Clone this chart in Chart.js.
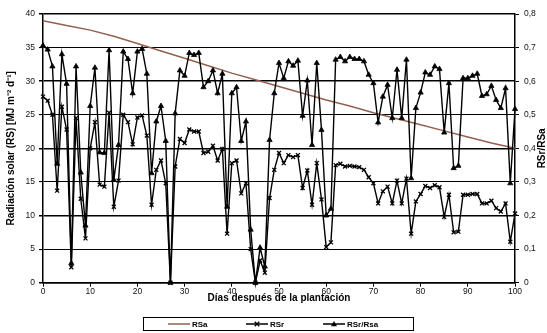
<!DOCTYPE html>
<html>
<head>
<meta charset="utf-8">
<script src="https://cdn.jsdelivr.net/npm/chart.js@4"></script>
<style>
  html, body { margin: 0; padding: 0; background: #fff; }
  canvas { display: block; }
</style>
</head>
<body>
<canvas id="c" width="547" height="333"></canvas>
<script>
// Days after planting (x values)
const days = [0,1,2,3,4,5,6,7,8,9,10,11,12,13,14,15,16,17,18,19,20,21,22,23,24,25,26,27,28,29,30,
  31,32,33,34,35,36,37,38,39,40,41,42,43,44,45,46,47,48,49,50,51,52,53,54,55,56,57,58,59,60,
  61,62,63,64,65,66,67,68,69,70,71,72,73,74,75,76,77,78,79,80,81,82,83,84,85,86,87,88,89,90,
  91,92,93,94,95,96,97,98,99,100];

// Measured solar radiation RSr, MJ m-2 d-1
const rsr = [27.7,27.1,25.0,13.7,26.2,22.8,2.3,24.5,12.5,6.6,20.0,23.9,14.6,14.3,25.3,11.3,15.2,
  25.0,23.9,20.6,24.6,24.9,21.9,11.6,16.8,18.2,14.8,0,17.3,21.4,20.8,22.8,22.5,22.5,19.3,19.5,
  20.4,18.2,19.9,7.3,17.8,18.2,13.3,14.8,5.0,0,3.3,1.5,12.6,16.8,19.3,17.8,19.0,18.7,19.0,14.1,
  16.7,11.6,17.8,12.4,5.3,6.0,17.5,17.7,17.3,17.4,17.3,17.2,16.8,15.7,14.8,11.8,13.6,14.3,11.8,
  15.2,11.8,15.5,7.3,12.1,13.2,14.4,14.1,14.5,14.2,9.8,13.1,7.5,7.6,13.1,13.1,13.2,13.2,11.8,
  11.8,12.2,11.1,10.6,11.8,6.1,10.3];

// Ratio RSr/RSa (right axis)
const ratio = [0.706,0.694,0.644,0.354,0.680,0.592,0.058,0.644,0.328,0.170,0.526,0.640,0.388,0.386,
  0.692,0.306,0.410,0.688,0.666,0.564,0.688,0.696,0.622,0.326,0.480,0.526,0.422,0,0.504,0.632,
  0.616,0.684,0.678,0.684,0.582,0.600,0.632,0.564,0.622,0.226,0.564,0.582,0.422,0.480,0.158,0,
  0.104,0.048,0.425,0.564,0.654,0.609,0.659,0.646,0.661,0.497,0.602,0.410,0.654,0.455,0.200,
  0.220,0.664,0.672,0.659,0.672,0.666,0.666,0.659,0.619,0.594,0.477,0.554,0.589,0.490,0.634,
  0.490,0.664,0.311,0.520,0.566,0.626,0.619,0.644,0.636,0.447,0.594,0.341,0.348,0.609,0.609,
  0.616,0.622,0.556,0.561,0.586,0.544,0.520,0.579,0.296,0.517];

// Extraterrestrial radiation RSa, read every 5 days
const rsaDays = [0,5,10,15,20,25,30,35,40,45,50,55,60,65,70,75,80,85,90,95,100];
const rsa = [39.0,38.3,37.6,36.7,35.6,34.5,33.4,32.3,31.2,30.2,29.2,28.2,27.2,26.3,25.3,24.4,
  23.5,22.6,21.7,20.8,20.0];

// Axis ticks
const xTicks = [0,10,20,30,40,50,60,70,80,90,100];
const leftTicks = [0,5,10,15,20,25,30,35,40];
const rightTicks = [0,0.1,0.2,0.3,0.4,0.5,0.6,0.7,0.8];

const FONT = "'Liberation Sans', Arial, sans-serif";
const BROWN = '#93604f';

const pts = (xs, ys) => xs.map((x, i) => ({ x: x, y: ys[i] }));

// Bottom legend in a framed box, plus the right-hand axis title
const extras = {
  id: 'extras',
  afterDraw(chart) {
    const ctx = chart.ctx;
    ctx.save();
    // right axis title, reading upwards
    ctx.fillStyle = '#000';
    ctx.font = 'bold 10px ' + FONT;
    ctx.textAlign = 'center';
    ctx.textBaseline = 'middle';
    ctx.translate(542, (chart.chartArea.top + chart.chartArea.bottom) / 2);
    ctx.rotate(-Math.PI / 2);
    ctx.fillText('RSr/RSa', 0, 0);
    ctx.restore();

    // legend frame
    ctx.save();
    ctx.strokeStyle = '#000';
    ctx.lineWidth = 1;
    ctx.strokeRect(143.5, 317.5, 270, 13);
    const yMid = 324;
    const slots = [168, 246, 323];
    chart.data.datasets.forEach((ds, i) => {
      const x0 = slots[i];
      ctx.strokeStyle = ds.borderColor;
      ctx.lineWidth = 1.5;
      ctx.beginPath();
      ctx.moveTo(x0, yMid);
      ctx.lineTo(x0 + 22, yMid);
      ctx.stroke();
      const cx = x0 + 11;
      if (ds.pointStyle === 'crossRot') {
        ctx.lineWidth = 1.3;
        ctx.beginPath();
        ctx.moveTo(cx - 2.3, yMid - 2.3); ctx.lineTo(cx + 2.3, yMid + 2.3);
        ctx.moveTo(cx - 2.3, yMid + 2.3); ctx.lineTo(cx + 2.3, yMid - 2.3);
        ctx.stroke();
      } else if (ds.pointStyle === 'triangle') {
        ctx.fillStyle = '#000';
        ctx.beginPath();
        ctx.moveTo(cx, yMid - 3);
        ctx.lineTo(cx + 3, yMid + 2.2);
        ctx.lineTo(cx - 3, yMid + 2.2);
        ctx.closePath();
        ctx.fill();
      }
      ctx.fillStyle = '#000';
      ctx.font = 'bold 8px ' + FONT;
      ctx.textAlign = 'left';
      ctx.textBaseline = 'middle';
      ctx.fillText(ds.label, x0 + 24, yMid + 0.5);
    });
    ctx.restore();
  }
};

new Chart(document.getElementById('c'), {
  type: 'line',
  data: {
    datasets: [
      {
        label: 'RSa',
        data: pts(rsaDays, rsa),
        yAxisID: 'y',
        borderColor: BROWN,
        borderWidth: 1.5,
        pointRadius: 0,
        order: 3
      },
      {
        label: 'RSr',
        data: pts(days, rsr),
        yAxisID: 'y',
        borderColor: '#000',
        borderWidth: 1.4,
        pointStyle: 'crossRot',
        pointRadius: 2.8,
        pointBorderWidth: 1.3,
        pointBorderColor: '#000',
        pointBackgroundColor: '#000',
        order: 1
      },
      {
        label: 'RSr/Rsa',
        data: pts(days, ratio),
        yAxisID: 'y2',
        borderColor: '#000',
        borderWidth: 1.4,
        pointStyle: 'triangle',
        pointRadius: 3,
        pointBorderWidth: 0.8,
        pointBorderColor: '#000',
        pointBackgroundColor: '#000',
        order: 2
      }
    ]
  },
  options: {
    responsive: false,
    animation: false,
    devicePixelRatio: 1,
    clip: false,
    layout: { padding: { top: 14, right: 0, bottom: 28, left: 0 } },
    plugins: {
      legend: { display: false },
      tooltip: { enabled: false }
    },
    elements: { line: { tension: 0 } },
    scales: {
      x: {
        type: 'linear',
        min: 0, max: 100,
        afterBuildTicks: s => { s.ticks = xTicks.map(v => ({ value: v })); },
        afterFit: s => { s.height = 22.3; },
        ticks: { color: '#111', font: { family: FONT, size: 8.5 }, padding: 0, maxRotation: 0 },
        grid: { drawOnChartArea: false, drawTicks: true, tickLength: 4, color: '#000', lineWidth: 1 },
        border: { color: '#000', width: 1.5 },
        title: {
          display: true,
          text: 'Días después de la plantación',
          color: '#000',
          font: { family: FONT, size: 10, weight: 'bold' },
          padding: { top: 0, bottom: 1 }
        }
      },
      y: {
        position: 'left',
        min: 0, max: 40,
        afterBuildTicks: s => { s.ticks = leftTicks.map(v => ({ value: v })); },
        afterFit: s => { s.width = 43; },
        ticks: { color: '#111', font: { family: FONT, size: 8.5 }, padding: 4 },
        grid: {
          color: '#000',
          lineWidth: c => (c.tick && c.tick.value % 10 === 0 ? 1.5 : 1.1),
          tickLength: 4
        },
        border: { color: '#000', width: 1.5 },
        title: {
          display: true,
          text: 'Radiación solar (RS) [MJ m⁻² d⁻¹]',
          color: '#000',
          font: { family: FONT, size: 10, weight: 'bold' },
          padding: { top: 5, bottom: 0 }
        }
      },
      y2: {
        position: 'right',
        min: 0, max: 0.8,
        afterBuildTicks: s => { s.ticks = rightTicks.map(v => ({ value: v })); },
        afterFit: s => { s.width = 32; },
        ticks: {
          color: '#111',
          font: { family: FONT, size: 8.5 },
          padding: 5,
          callback: v => (v === 0 ? '0' : v.toFixed(1).replace('.', ','))
        },
        grid: { drawOnChartArea: false, tickLength: 4, color: '#000', lineWidth: 1 },
        border: { color: '#000', width: 1.5 }
      }
    }
  },
  plugins: [extras]
});
</script>
</body>
</html>
